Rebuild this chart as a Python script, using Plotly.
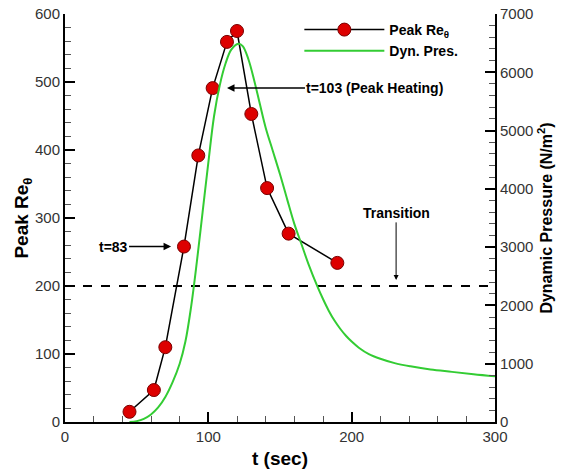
import plotly.graph_objects as go

# Peak Re_theta data
t_re = [45, 62, 70, 83, 93, 103, 113, 120, 130, 141, 156, 190]
re_peak = [15, 47, 110, 258, 392, 491, 559, 575, 453, 344, 277, 234]

# Dynamic pressure curve (N/m^2)
t_dp = [45, 50, 55, 60, 65, 70, 75, 80, 84, 88, 92, 96, 100, 104, 108, 112, 116, 121,
        124, 128, 132, 136, 140, 145, 150, 155, 160, 165, 170, 176, 180, 184, 188, 192,
        196, 200, 205, 212, 220, 230, 241, 255, 270, 285, 300]
dyn_pres = [0, 15, 55, 130, 250, 430, 680, 1000, 1380, 1980, 2750, 3600, 4450, 5250,
            5780, 6150, 6390, 6490, 6450, 6220, 5860, 5450, 5050, 4650, 4250, 3820,
            3400, 3050, 2700, 2330, 2110, 1910, 1740, 1600, 1480, 1380, 1275, 1165,
            1085, 1010, 955, 900, 860, 820, 785]

transition_re = 200
x_range = [0, 300]

font_family = "Liberation Sans, Arial, sans-serif"

fig = go.Figure()

fig.add_trace(go.Scatter(
    x=x_range, y=[transition_re, transition_re], mode="lines",
    line=dict(color="black", width=2, dash="dash"), showlegend=False, hoverinfo="skip"))

fig.add_trace(go.Scatter(
    x=t_re, y=re_peak, mode="lines+markers", name="Peak Re<sub>θ</sub>",
    line=dict(color="black", width=1.5),
    marker=dict(color="#dd0000", size=13, line=dict(color="#7a0000", width=1))))

fig.add_trace(go.Scatter(
    x=t_dp, y=dyn_pres, mode="lines", name="Dyn. Pres.", yaxis="y2",
    line=dict(color="#33cc33", width=2, shape="spline", smoothing=1.0)))

tickfont = dict(family=font_family, size=15, color="#333333")

fig.update_layout(
    width=568, height=472,
    margin=dict(l=65, r=73, t=14, b=50, autoexpand=False),
    plot_bgcolor="white", paper_bgcolor="white",
    font=dict(family=font_family, color="black"),
    showlegend=True,
    legend=dict(x=0.545, y=1.0, xanchor="left", yanchor="top",
                bgcolor="rgba(255,255,255,0)", itemwidth=80,
                font=dict(family=font_family, size=14, color="black", weight="bold"),
                tracegroupgap=0),
    xaxis=dict(range=x_range, dtick=100, tick0=0, showgrid=False, zeroline=False,
               automargin=False, ticklabeloverflow="allow",
               showline=True, linecolor="black", linewidth=2,
               ticks="inside", ticklen=10, tickwidth=2, tickcolor="black",
               minor=dict(dtick=20, ticks="inside", ticklen=6, tickwidth=1, tickcolor="#555"),
               tickfont=tickfont,
               title=dict(text="<b>t (sec)</b>", font=dict(size=19, family=font_family), standoff=8)),
    yaxis=dict(range=[0, 600], dtick=100, showgrid=False, zeroline=False,
               automargin=False, ticklabeloverflow="allow",
               showline=True, linecolor="black", linewidth=2,
               ticks="inside", ticklen=10, tickwidth=2, tickcolor="black",
               minor=dict(dtick=20, ticks="inside", ticklen=6, tickwidth=1, tickcolor="#555"),
               tickfont=tickfont,
               title=dict(text="<b>Peak Re<sub>θ</sub></b>", font=dict(size=19, family=font_family), standoff=0)),
    yaxis2=dict(range=[0, 7000], dtick=1000, overlaying="y", side="right",
                automargin=False, ticklabeloverflow="allow",
                showgrid=False, zeroline=False,
                showline=True, linecolor="black", linewidth=2,
                ticks="inside", ticklen=10, tickwidth=2, tickcolor="black",
                minor=dict(dtick=200, ticks="inside", ticklen=6, tickwidth=1, tickcolor="#555"),
                tickfont=tickfont,
                title=dict(text="<b>Dynamic Pressure (N/m<sup>2</sup>)</b>", font=dict(size=16, family=font_family), standoff=8)),
)

ann_font = dict(family=font_family, size=14, color="black")
fig.add_annotation(x=74, y=258, text="<b>t=83</b>", showarrow=True, arrowhead=2,
                   arrowsize=1, arrowwidth=1.5, arrowcolor="black",
                   ax=-58, ay=0, font=ann_font)
fig.add_annotation(x=113, y=491, text="<b>t=103 (Peak Heating)</b>", showarrow=True,
                   arrowhead=2, arrowsize=1, arrowwidth=1.5, arrowcolor="black",
                   ax=148, ay=0, font=ann_font)
fig.add_annotation(x=231, y=209, text="<b>Transition</b>", showarrow=True,
                   arrowhead=2, arrowsize=1, arrowwidth=1, arrowcolor="black",
                   ax=0, ay=-67, font=ann_font)

fig.write_html("out.html", config={"displayModeBar": False},
               post_script="document.body.style.margin='0';")
